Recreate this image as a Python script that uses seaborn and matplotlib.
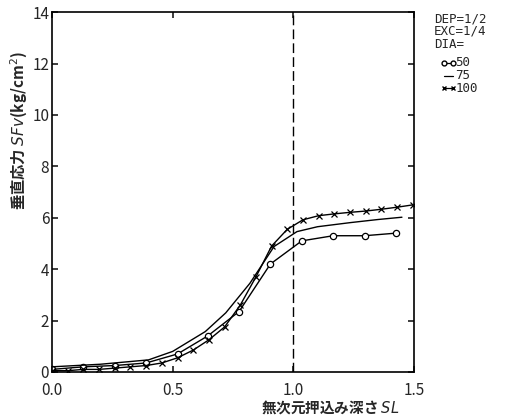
import matplotlib
matplotlib.use("Agg")
import matplotlib.pyplot as plt
import seaborn as sns
import pandas as pd

sns.set_theme(style="ticks")
plt.rcParams['font.family'] = ['Noto Sans CJK JP', 'DejaVu Sans']

# DIA = 50 (circles)
x50 = [0.0, 0.13, 0.26, 0.39, 0.52, 0.645, 0.775, 0.905, 1.035, 1.165, 1.295, 1.425]
y50 = [0.1, 0.2, 0.25, 0.35, 0.7, 1.4, 2.35, 4.2, 5.1, 5.3, 5.3, 5.4]

# DIA = 75 (plain line)
x75 = [0.0, 0.2, 0.4, 0.5, 0.635, 0.72, 0.82, 0.92, 1.015, 1.1, 1.236, 1.35, 1.45]
y75 = [0.2, 0.3, 0.47, 0.8, 1.57, 2.3, 3.45, 4.88, 5.46, 5.65, 5.81, 5.93, 6.02]

# DIA = 100 (crosses)
x100 = [0.0, 0.065, 0.13, 0.195, 0.26, 0.325, 0.39, 0.455, 0.52, 0.585, 0.65,
        0.715, 0.78, 0.845, 0.91, 0.975, 1.04, 1.105, 1.17, 1.235, 1.30, 1.365,
        1.43, 1.495]
y100 = [0.05, 0.05, 0.1, 0.1, 0.15, 0.2, 0.25, 0.35, 0.55, 0.85, 1.25,
        1.75, 2.6, 3.7, 4.9, 5.55, 5.92, 6.08, 6.15, 6.21, 6.26, 6.33,
        6.41, 6.5]

xticks = [0.0, 0.5, 1.0, 1.5]
xticklabels = ["0.0", "0.5", "1.0", "1.5"]
yticks = [0, 2, 4, 6, 8, 10, 12, 14]
legend_head = ["DEP=1/2", "EXC=1/4", "DIA="]
dia_labels = ["50", "75", "100"]

fig = plt.figure(figsize=(5.12, 4.17), dpi=100)
ax = fig.add_axes([0.1016, 0.108, 0.707, 0.863])

series = [(x50, y50, "o"), (x75, y75, None), (x100, y100, "x")]
for xs, ys, m in series:
    d = pd.DataFrame({"SL": xs, "SFv": ys})
    kw = dict(color="black", linewidth=1.0, sort=False, estimator=None, ax=ax)
    if m == "o":
        kw.update(marker="o", markersize=4.5, markerfacecolor="white",
                  markeredgecolor="black", markeredgewidth=0.9)
    elif m == "x":
        kw.update(marker="x", markersize=4.5, markeredgecolor="black",
                  markeredgewidth=0.9)
    sns.lineplot(data=d, x="SL", y="SFv", **kw)

ax.axvline(1.0, color="black", linestyle=(0, (7, 3)), linewidth=1.0)

ax.set_xlim(0, 1.5)
ax.set_ylim(0, 14)
ax.set_xticks(xticks)
ax.set_xticklabels(xticklabels)
ax.set_yticks(yticks)
ax.tick_params(direction="in", length=4, labelsize=11, top=True, right=True,
               labeltop=False, labelright=False)
ax.tick_params(axis="y", pad=2)
ax.tick_params(axis="x", pad=7)
for s in ax.spines.values():
    s.set_linewidth(1.2)
    s.set_color("black")

ax.set_xlabel("無次元押込み深さ $SL$", fontsize=10.5, fontweight="bold")
ax.xaxis.set_label_coords(0.77, -0.074)
ax.set_ylabel("垂直応力 $SFv$(kg/cm$^2$)", fontsize=11, fontweight="bold")
ax.yaxis.set_label_coords(-0.06, 0.67)

# legend block
H = 417.0
fx = 0.848
mono = "DejaVu Sans Mono"
for txt, ypx in zip(legend_head, [19, 31.5, 44]):
    fig.text(fx, 1 - ypx / H, txt, fontsize=9, family=mono, va="center")
mk = ["o", None, "x"]
for i, lab in enumerate(dia_labels):
    yy = 1 - (63 + 12.5 * i) / H
    ln = plt.Line2D([0.868, 0.885], [yy, yy], color="black", lw=0.9,
                    marker=mk[i] if mk[i] else "None", markersize=3.5,
                    markerfacecolor="white", markeredgecolor="black",
                    transform=fig.transFigure)
    fig.lines.append(ln)
    fig.text(0.889, yy, lab, fontsize=9, family=mono, va="center")

fig.savefig("out.png", dpi=100)
